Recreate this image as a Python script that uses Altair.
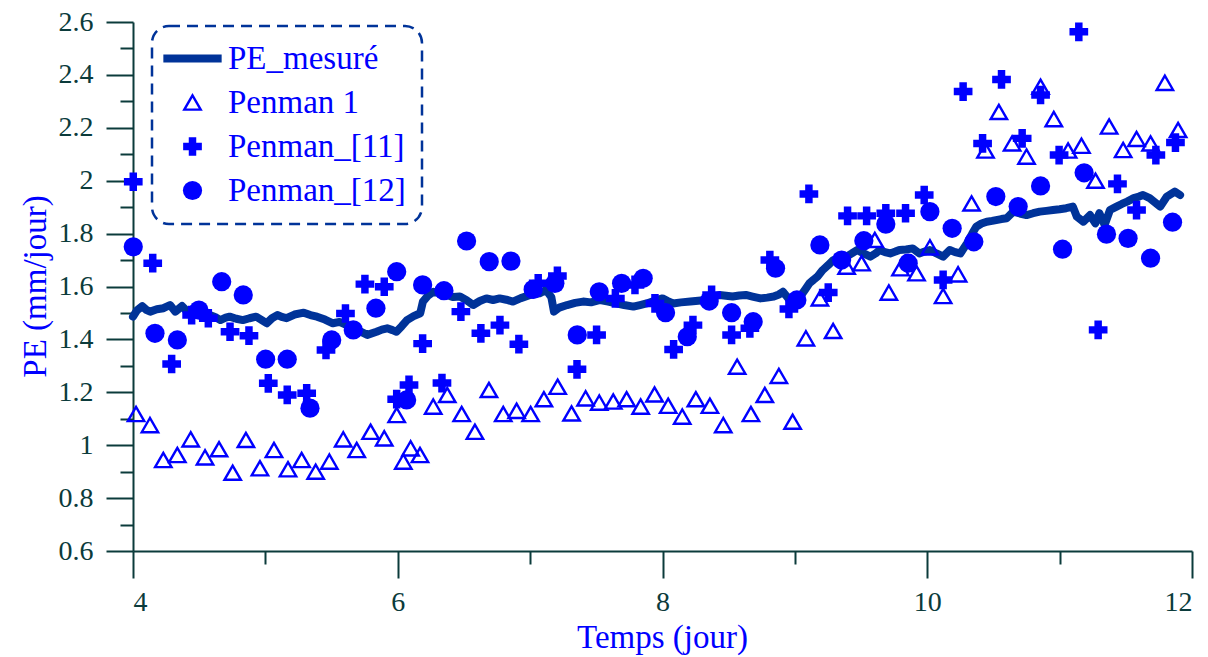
import altair as alt
import pandas as pd

SERIES = ["PE_mesuré", "Penman 1", "Penman_[11]", "Penman_[12]"]

# PE_mesuré (measured, continuous line)
mesure_jour = [4.00, 4.03, 4.07, 4.10, 4.13, 4.18, 4.23, 4.28, 4.32, 4.37, 4.41, 4.45, 4.51, 4.55, 4.58,
               4.62, 4.66, 4.70, 4.73, 4.78, 4.83, 4.88, 4.93, 4.97, 5.01, 5.05, 5.09, 5.13, 5.16, 5.22,
               5.29, 5.34, 5.39, 5.45, 5.51, 5.56, 5.61, 5.66, 5.72, 5.77, 5.84, 5.88, 5.92, 5.96, 5.99,
               6.03, 6.07, 6.12, 6.17, 6.19, 6.23, 6.27, 6.32, 6.37, 6.42, 6.47, 6.52, 6.57, 6.62, 6.67,
               6.72, 6.77, 6.82, 6.87, 6.93, 7.00, 7.07, 7.12, 7.16, 7.18, 7.22, 7.28, 7.34, 7.40, 7.46,
               7.53, 7.59, 7.65, 7.71, 7.78, 7.83, 7.88, 7.94, 8.00, 8.04, 8.08, 8.14, 8.21, 8.27, 8.33,
               8.38, 8.43, 8.48, 8.53, 8.58, 8.63, 8.68, 8.74, 8.79, 8.84, 8.88, 8.91, 8.96, 9.00, 9.04,
               9.08, 9.11, 9.14, 9.17, 9.21, 9.25, 9.29, 9.34, 9.39, 9.43, 9.47, 9.52, 9.57, 9.61, 9.64,
               9.68, 9.72, 9.76, 9.79, 9.84, 9.89, 9.94, 9.98, 10.02, 10.07, 10.12, 10.17, 10.21, 10.25,
               10.30, 10.34, 10.37, 10.41, 10.45, 10.49, 10.52, 10.56, 10.60, 10.65, 10.70, 10.75, 10.80,
               10.85, 10.90, 10.95, 11.00, 11.05, 11.10, 11.13, 11.18, 11.23, 11.27, 11.30, 11.34, 11.38,
               11.43, 11.47, 11.51, 11.56, 11.60, 11.63, 11.68, 11.72, 11.76, 11.81, 11.87, 11.91]
mesure_pe = [1.486, 1.510, 1.526, 1.512, 1.505, 1.514, 1.518, 1.530, 1.505, 1.526, 1.505, 1.515, 1.499, 1.497, 1.492,
             1.485, 1.473, 1.482, 1.486, 1.478, 1.473, 1.480, 1.486, 1.474, 1.461, 1.480, 1.492, 1.484, 1.480, 1.494,
             1.501, 1.492, 1.486, 1.475, 1.461, 1.466, 1.455, 1.442, 1.429, 1.417, 1.429, 1.437, 1.442, 1.435, 1.429,
             1.450, 1.473, 1.488, 1.499, 1.543, 1.566, 1.580, 1.574, 1.568, 1.560, 1.562, 1.548, 1.530, 1.545, 1.555,
             1.549, 1.555, 1.550, 1.543, 1.556, 1.568, 1.574, 1.587, 1.560, 1.505, 1.520, 1.530, 1.538, 1.543, 1.540,
             1.549, 1.543, 1.536, 1.530, 1.524, 1.530, 1.536, 1.546, 1.555, 1.545, 1.536, 1.540, 1.543, 1.546, 1.549,
             1.560, 1.568, 1.565, 1.562, 1.566, 1.568, 1.562, 1.555, 1.558, 1.562, 1.570, 1.580, 1.549, 1.552, 1.562,
             1.590, 1.612, 1.625, 1.637, 1.662, 1.680, 1.700, 1.706, 1.713, 1.725, 1.738, 1.725, 1.713, 1.725, 1.738,
             1.730, 1.725, 1.732, 1.738, 1.740, 1.744, 1.725, 1.732, 1.738, 1.725, 1.713, 1.738, 1.730, 1.725,
             1.763, 1.800, 1.826, 1.838, 1.845, 1.848, 1.851, 1.855, 1.858, 1.883, 1.876, 1.870, 1.877,
             1.883, 1.886, 1.889, 1.892, 1.896, 1.902, 1.864, 1.845, 1.870, 1.839, 1.877, 1.833, 1.889,
             1.902, 1.912, 1.921, 1.934, 1.940, 1.946, 1.934, 1.918, 1.902, 1.940, 1.959, 1.946]

# Penman 1 (open triangles)
p1_jour = [4.023, 4.128, 4.229, 4.335, 4.436, 4.544, 4.650, 4.753, 4.853, 4.959, 5.065, 5.171, 5.274, 5.380,
           5.483, 5.588, 5.690, 5.795, 5.898, 5.992, 6.042, 6.097, 6.168, 6.268, 6.374, 6.483, 6.583, 6.689,
           6.797, 6.898, 7.004, 7.104, 7.208, 7.313, 7.419, 7.522, 7.628, 7.729, 7.835, 7.940, 8.043, 8.149,
           8.252, 8.358, 8.459, 8.564, 8.668, 8.773, 8.879, 8.983, 9.083, 9.189, 9.289, 9.391, 9.504, 9.604,
           9.710, 9.798, 9.919, 10.020, 10.120, 10.233, 10.335, 10.440, 10.541, 10.641, 10.750, 10.856,
           10.956, 11.064, 11.165, 11.271, 11.374, 11.480, 11.581, 11.687, 11.795, 11.895]
p1_pe = [1.118, 1.076, 0.944, 0.963, 1.022, 0.954, 0.985, 0.896, 1.020, 0.913, 0.982, 0.909, 0.944, 0.900,
         0.938, 1.022, 0.982, 1.051, 1.026, 1.114, 0.938, 0.988, 0.963, 1.146, 1.190, 1.118, 1.051, 1.209,
         1.118, 1.130, 1.118, 1.174, 1.221, 1.120, 1.177, 1.161, 1.165, 1.174, 1.146, 1.192, 1.149, 1.108,
         1.174, 1.149, 1.076, 1.297, 1.118, 1.190, 1.262, 1.089, 1.404, 1.555, 1.432, 1.675, 1.688, 1.776,
         1.577, 1.669, 1.650, 1.748, 1.564, 1.646, 1.914, 2.114, 2.260, 2.141, 2.091, 2.355,
         2.233, 2.114, 2.132, 2.000, 2.205, 2.116, 2.158, 2.141, 2.370, 2.192]

# Penman_[11] (plus signs)
p11_jour = [4.002, 4.149, 4.292, 4.443, 4.569, 4.733, 4.876, 5.022, 5.165, 5.312, 5.458, 5.605, 5.752, 5.898,
            5.992, 6.085, 6.188, 6.334, 6.477, 6.628, 6.772, 6.915, 7.061, 7.206, 7.354, 7.502, 7.644, 7.792,
            7.943, 8.084, 8.230, 8.371, 8.522, 8.660, 8.811, 8.955, 9.106, 9.252, 9.398, 9.542, 9.687, 9.836,
            9.977, 10.120, 10.271, 10.418, 10.561, 10.717, 10.856, 10.996, 11.145, 11.291, 11.437, 11.581,
            11.727, 11.875]
p11_pe = [1.996, 1.688, 1.307, 1.492, 1.480, 1.429, 1.414, 1.234, 1.190, 1.196, 1.360, 1.498, 1.609, 1.599,
          1.174, 1.228, 1.384, 1.235, 1.505, 1.423, 1.454, 1.382, 1.612, 1.640, 1.287, 1.417, 1.555, 1.606,
          1.536, 1.362, 1.454, 1.568, 1.417, 1.442, 1.700, 1.515, 1.950, 1.577, 1.867, 1.867, 1.877, 1.877,
          1.946, 1.625, 2.337, 2.141, 2.383, 2.160, 2.324, 2.097, 2.563, 1.436, 1.988, 1.889,
          2.097, 2.144]

# Penman_[12] (filled circles)
p12_jour = [4.002, 4.166, 4.335, 4.498, 4.670, 4.833, 5.002, 5.165, 5.337, 5.501, 5.664, 5.835, 5.992, 6.067,
            6.188, 6.349, 6.520, 6.691, 6.855, 7.023, 7.187, 7.356, 7.522, 7.691, 7.854, 8.023, 8.187, 8.353,
            8.522, 8.685, 8.854, 9.015, 9.189, 9.353, 9.521, 9.687, 9.856, 10.020, 10.188, 10.352, 10.518,
            10.687, 10.856, 11.022, 11.185, 11.354, 11.517, 11.687, 11.853]
p12_pe = [1.750, 1.423, 1.398, 1.511, 1.618, 1.568, 1.325, 1.325, 1.140, 1.398, 1.436, 1.518, 1.656, 1.171,
          1.606, 1.584, 1.772, 1.694, 1.696, 1.589, 1.612, 1.417, 1.580, 1.612, 1.631, 1.501, 1.410, 1.545,
          1.501, 1.467, 1.669, 1.549, 1.757, 1.700, 1.773, 1.836, 1.688, 1.883, 1.820, 1.769, 1.940,
          1.902, 1.980, 1.741, 2.030, 1.798, 1.782, 1.707, 1.843]

x_major = [4, 6, 8, 10, 12]
x_minor = [5, 7, 9, 11]
y_major = [0.6, 0.8, 1.0, 1.2, 1.4, 1.6, 1.8, 2.0, 2.2, 2.4, 2.6]
y_minor = [0.7, 0.9, 1.1, 1.3, 1.5, 1.7, 1.9, 2.1, 2.3, 2.5]

line_df = pd.DataFrame({"jour": mesure_jour, "pe": mesure_pe, "serie": SERIES[0]})
pts_df = pd.concat([
    pd.DataFrame({"jour": p1_jour, "pe": p1_pe, "serie": SERIES[1]}),
    pd.DataFrame({"jour": p11_jour, "pe": p11_pe, "serie": SERIES[2]}),
    pd.DataFrame({"jour": p12_jour, "pe": p12_pe, "serie": SERIES[3]}),
], ignore_index=True)

AX = "#0b3b3b"
BLUE = "#0000ff"
DARK = "#003399"
FONT = "Liberation Serif"

xs = alt.Scale(domain=[4, 12], nice=False, zero=False)
ys = alt.Scale(domain=[0.6, 2.6], nice=False, zero=False)

stroke_scale = alt.Scale(domain=SERIES, range=[DARK, BLUE, BLUE, BLUE])
fill_scale = alt.Scale(domain=SERIES, range=[DARK, "transparent", BLUE, BLUE])
shape_scale = alt.Scale(domain=SERIES, range=["M-2.65,0L2.65,0", "triangle-up", "cross", "circle"])
size_scale = alt.Scale(type="ordinal", domain=SERIES, range=[484, 270, 350, 370])
sw_scale = alt.Scale(type="ordinal", domain=SERIES, range=[8, 2.4, 0, 0])

leg = alt.Legend(title=None)

common_axis = dict(domainColor=AX, domainWidth=2, tickColor=AX, tickWidth=2,
                   labelFont=FONT, labelFontSize=28, labelColor=AX,
                   titleFont=FONT, titleFontSize=33, titleColor=BLUE, titleFontWeight="normal",
                   grid=False)

x_axis_major = alt.Axis(values=x_major, tickSize=27, orient="bottom", labelPadding=10,
                        title="Temps (jour)", titleX=529, titleY=86, titleBaseline="middle",
                        titleAlign="center", **common_axis)
x_axis_minor = alt.Axis(values=x_minor, tickSize=13, orient="bottom", labels=False, domain=False,
                        title=None, tickColor=AX, tickWidth=2, grid=False)
y_axis_major = alt.Axis(values=y_major, tickSize=27, orient="left", labelPadding=13, format=".1~f",
                        title="PE (mm/jour)", titleX=-98, titleY=264, titleBaseline="middle",
                        titleAlign="center", titleAngle=270, **common_axis)
y_axis_minor = alt.Axis(values=y_minor, tickSize=13, orient="left", labels=False, domain=False,
                        title=None, tickColor=AX, tickWidth=2, grid=False)

line = alt.Chart(line_df).mark_line(strokeCap="round", strokeJoin="round").encode(
    x=alt.X("jour:Q", scale=xs, axis=x_axis_major),
    y=alt.Y("pe:Q", scale=ys, axis=y_axis_major),
    stroke=alt.Stroke("serie:N", scale=stroke_scale, legend=leg),
    strokeWidth=alt.StrokeWidth("serie:N", scale=sw_scale, legend=leg),
)

points = alt.Chart(pts_df).mark_point(opacity=1).encode(
    x=alt.X("jour:Q", scale=xs, axis=x_axis_minor),
    y=alt.Y("pe:Q", scale=ys, axis=y_axis_minor),
    shape=alt.Shape("serie:N", scale=shape_scale, legend=leg),
    fill=alt.Fill("serie:N", scale=fill_scale, legend=leg),
    stroke=alt.Stroke("serie:N", scale=stroke_scale, legend=leg),
    size=alt.Size("serie:N", scale=size_scale, legend=leg),
    strokeWidth=alt.StrokeWidth("serie:N", scale=sw_scale, legend=leg),
)

chart = alt.layer(line, points).resolve_axis(x="independent", y="independent").properties(
    width=1059, height=529,
    autosize=alt.AutoSizeParams(type="none"),
    padding={"left": 133, "top": 22, "right": 16, "bottom": 106},
).configure_view(stroke=None).configure_legend(
    orient="none", legendX=19, legendY=4,
    padding=16, cornerRadius=17, strokeColor=DARK, strokeDash=[11, 7], strokeWidth=2.5,
    fillColor="white",
    labelFont=FONT, labelFontSize=33, labelColor=BLUE, labelLimit=400,
    symbolOffset=8, labelOffset=19, rowPadding=10, symbolOpacity=1,
)

chart.save("out.html", embed_options={"renderer": "svg", "actions": False})
